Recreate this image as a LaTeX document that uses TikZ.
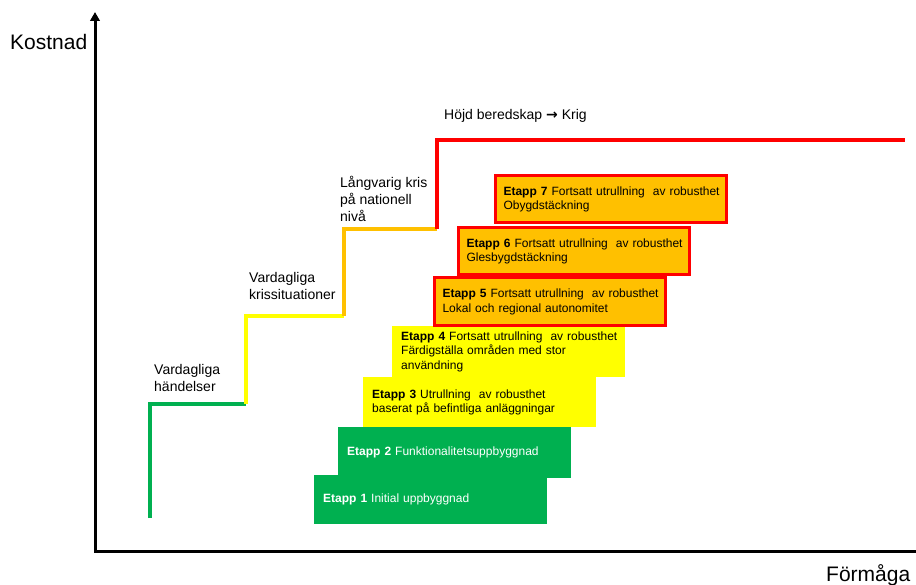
\documentclass[tikz,border=0pt]{standalone}
\usepackage{fontspec}
\setmainfont{Liberation Sans}
\newfontfamily\arrowfont{DejaVu Sans}
\usetikzlibrary{arrows.meta}
\definecolor{cgreen}{HTML}{00B050}
\definecolor{cyellow}{HTML}{FFFF00}
\definecolor{corange}{HTML}{FFC000}
\definecolor{cred}{HTML}{FF0000}
\begin{document}
\begin{tikzpicture}[x=1pt,y=-1pt,
  stagebase/.style={rectangle, anchor=north west, align=left, inner ysep=0pt,
    font=\fontsize{12}{14.6}\selectfont},
  greenstage/.style={stagebase, fill=cgreen, text=white, inner xsep=9pt, text width=215pt},
  yellowstage/.style={stagebase, fill=cyellow, text=black, inner xsep=9pt, text width=215pt},
  orangestage/.style={stagebase, fill=corange, draw=cred, line width=3pt, text=black, inner xsep=8.5pt, text width=214pt},
  steplabel/.style={anchor=north west, align=left, inner sep=0pt, font=\fontsize{14}{17}\selectfont},
  axislabel/.style={anchor=base west, inner sep=0pt, font=\fontsize{21}{24}\selectfont},
  stepline/.style={line width=4pt, line join=miter},
  axisline/.style={line width=3pt, line join=miter, -{Triangle[length=9pt,width=9.5pt]}}
]
\useasboundingbox (0,0) rectangle (916,585);

% axes
\coordinate (origin) at (95,551);
\coordinate (ytop) at (95,12);
\coordinate (xend) at (916,551);
\draw[axisline] (xend) -- (origin) -- (ytop);
\node[axislabel] (kostnad) at (10,50) {Kostnad};
\node[axislabel] (formaga) at (826,581) {Förmåga};

% step line
\coordinate (s0) at (150,518);
\coordinate (s1) at (150,404);
\coordinate (s2) at (246,404);
\coordinate (s3) at (246,316);
\coordinate (s4) at (344,316);
\coordinate (s5) at (344,229);
\coordinate (s6) at (437,229);
\coordinate (s7) at (437,140);
\coordinate (s8) at (905,140);
\draw[stepline, cgreen] (s0) -- (s1) -- (s2);
\draw[stepline, cyellow] (s2) -- (s3) -- (s4);
\draw[stepline, corange] (s4) -- (s5) -- (s6);
\draw[stepline, cred] (s6) -- (s7) -- (s8);

% step labels
\node[steplabel] (l1) at (154,364) {Vardagliga\\händelser};
\node[steplabel] (l2) at (249,272) {Vardagliga\\krissituationer};
\node[steplabel] (l3) at (340,176) {Långvarig kris\\på nationell\\nivå};
\node[steplabel] (l4) at (444,109) {Höjd beredskap {\arrowfont\bfseries →} Krig};

% stages
\node[greenstage, minimum height=49pt] (e1) at (314,475)
  {\mbox{\textbf{Etapp 1} Initial uppbyggnad}};
\node[greenstage, minimum height=51pt] (e2) at (338,427)
  {\mbox{\textbf{Etapp 2} Funktionalitetsuppbyggnad}};
\node[yellowstage, minimum height=50pt] (e3) at (363,377)
  {\mbox{\textbf{Etapp 3} Utrullning\ \ av robusthet}\\\mbox{baserat på befintliga anläggningar}};
\node[yellowstage, minimum height=51pt] (e4) at (392,326)
  {\mbox{\textbf{Etapp 4} Fortsatt utrullning\ \ av robusthet}\\\mbox{Färdigställa områden med stor}\\\mbox{användning}};
\node[orangestage, minimum height=48pt] (e5) at (432.5,276.5)
  {\mbox{\textbf{Etapp 5} Fortsatt utrullning\ \ av robusthet}\\\mbox{Lokal och regional autonomitet}};
\node[orangestage, minimum height=47pt] (e6) at (456.5,226.5)
  {\mbox{\textbf{Etapp 6} Fortsatt utrullning\ \ av robusthet}\\\mbox{Glesbygdstäckning}};
\node[orangestage, minimum height=47pt] (e7) at (493.5,174.5)
  {\mbox{\textbf{Etapp 7} Fortsatt utrullning\ \ av robusthet}\\\mbox{Obygdstäckning}};
\end{tikzpicture}
\end{document}
